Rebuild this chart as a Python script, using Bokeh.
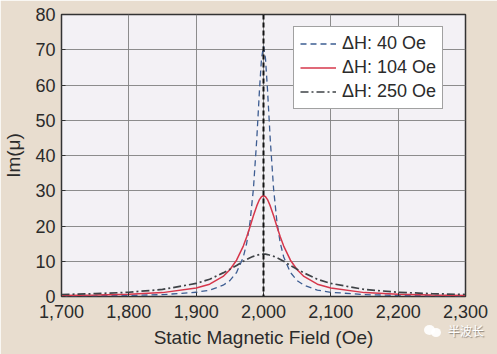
from bokeh.plotting import figure
from bokeh.models import (Legend, LegendItem, Span, NumeralTickFormatter, FixedTicker,
                          Range1d, Div)
from bokeh.layouts import column
from bokeh.embed import file_html
from bokeh.resources import INLINE

# ---- data ----
field = [1700, 1750, 1800, 1850, 1900, 1920, 1940, 1950, 1960, 1970, 1975, 1980, 1985,
         1990, 1994, 1997, 2000, 2003, 2006, 2010, 2015, 2020, 2025, 2030, 2040, 2050,
         2060, 2080, 2100, 2150, 2200, 2250, 2300]
im_40 = [0.13, 0.19, 0.30, 0.53, 1.2, 1.8, 3.2, 4.5, 6.8, 11.2, 15.1, 21.1, 30.5,
         44.6, 58.5, 67.4, 71.0, 67.4, 58.5, 44.6, 30.5, 21.1, 15.1, 11.2, 6.8, 4.5,
         3.2, 1.8, 1.2, 0.53, 0.30, 0.19, 0.13]
im_104 = [0.28, 0.41, 0.63, 1.1, 2.4, 3.5, 5.7, 7.6, 10.3, 14.3, 16.9, 19.8, 22.9,
          25.7, 27.5, 28.3, 28.6, 28.3, 27.5, 25.7, 22.9, 19.8, 16.9, 14.3, 10.3, 7.6,
          5.7, 3.5, 2.4, 1.1, 0.63, 0.41, 0.28]
im_250 = [0.57, 0.80, 1.2, 2.0, 3.7, 4.9, 6.7, 7.7, 8.8, 10.0, 10.5, 11.0, 11.4,
          11.7, 11.9, 12.0, 12.0, 12.0, 11.9, 11.7, 11.4, 11.0, 10.5, 10.0, 8.8, 7.7,
          6.7, 4.9, 3.7, 2.0, 1.2, 0.80, 0.57]
series_labels = ["\u0394H: 40 Oe", "\u0394H: 104 Oe", "\u0394H: 250 Oe"]
resonance_field = 2000
x_ticks = [1700, 1800, 1900, 2000, 2100, 2200, 2300]
y_ticks = [0, 10, 20, 30, 40, 50, 60, 70, 80]
watermark = "\u534a\u6ce2\u957f"

FONT = "Liberation Sans"
TXT = "#2b2b2b"

p = figure(width=497, height=354, output_backend="svg", toolbar_location=None,
           x_range=Range1d(1700, 2300), y_range=Range1d(0, 80),
           min_border_left=60, min_border_right=32, min_border_top=14,
           min_border_bottom=58)
p.background_fill_color = "#f3f1f5"
p.border_fill_color = "#e8ddcf"
p.outline_line_color = "#333333"
p.outline_line_width = 1.5

p.grid.grid_line_color = "#808080"
p.grid.grid_line_width = 0.9

for ax in (p.xaxis[0], p.yaxis[0]):
    ax.axis_line_color = None
    ax.major_tick_in = 4
    ax.major_tick_out = 0
    ax.minor_tick_line_color = None
    ax.major_tick_line_color = "#333333"
    ax.major_label_text_font = FONT
    ax.major_label_text_font_size = "18px"
    ax.major_label_text_color = TXT
    ax.axis_label_text_font = FONT
    ax.axis_label_text_font_size = "19px"
    ax.axis_label_text_font_style = "normal"
    ax.axis_label_text_color = TXT

p.xaxis.ticker = FixedTicker(ticks=x_ticks)
p.yaxis.ticker = FixedTicker(ticks=y_ticks)
p.xaxis.formatter = NumeralTickFormatter(format="0,0")
p.xaxis.axis_label = "Static Magnetic Field (Oe)"
p.yaxis.axis_label = "Im(\u03bc)"
p.xaxis.major_label_standoff = 8
p.xaxis.axis_label_standoff = 6
p.yaxis.major_label_standoff = 6
p.yaxis.axis_label_standoff = 8

r1 = p.line(field, im_40, line_color="#3d5d92", line_width=1.3, line_dash="6 4")
r2 = p.line(field, im_104, line_color="#d6374b", line_width=1.5)
r3 = p.line(field, im_250, line_color="#3f4347", line_width=1.7, line_dash="8 3 2 3")

p.add_layout(Span(location=resonance_field, dimension="height", line_color="#111111",
                  line_width=2, line_dash="5 3"))

legend = Legend(items=[LegendItem(label=series_labels[0], renderers=[r1]),
                       LegendItem(label=series_labels[1], renderers=[r2]),
                       LegendItem(label=series_labels[2], renderers=[r3])],
                location=(232, 187), label_text_font=FONT, label_text_font_size="18px",
                label_text_color=TXT, glyph_width=36, glyph_height=21, label_height=21,
                spacing=3, padding=6, margin=0, label_standoff=6,
                border_line_color="#444444", border_line_width=1.2,
                background_fill_color="#ffffff", background_fill_alpha=1.0)
p.add_layout(legend, "center")

# watermark overlaid at the lower right corner
icon = ('<span style="position:relative;display:inline-block;width:18px;height:12px;'
        'vertical-align:middle;margin-right:6px;">'
        '<span style="position:absolute;left:0;top:0;width:11px;height:10px;'
        'border-radius:50%;background:#ffffff;opacity:0.9;"></span>'
        '<span style="position:absolute;left:7px;top:3px;width:10px;height:9px;'
        'border-radius:50%;background:#ffffff;opacity:0.9;"></span></span>')
wm = Div(text=icon + '<span style="font-family:\'Noto Sans CJK SC\';font-size:12px;'
         'color:#ffffff;text-shadow:1px 1px 1px #8a8279;vertical-align:middle;">'
         + watermark + '</span>',
         styles={"position": "absolute", "left": "419px", "top": "317px",
                 "z-index": "10", "white-space": "nowrap"})

layout = column(p, wm)
open("out.html", "w").write(file_html(layout, INLINE))
